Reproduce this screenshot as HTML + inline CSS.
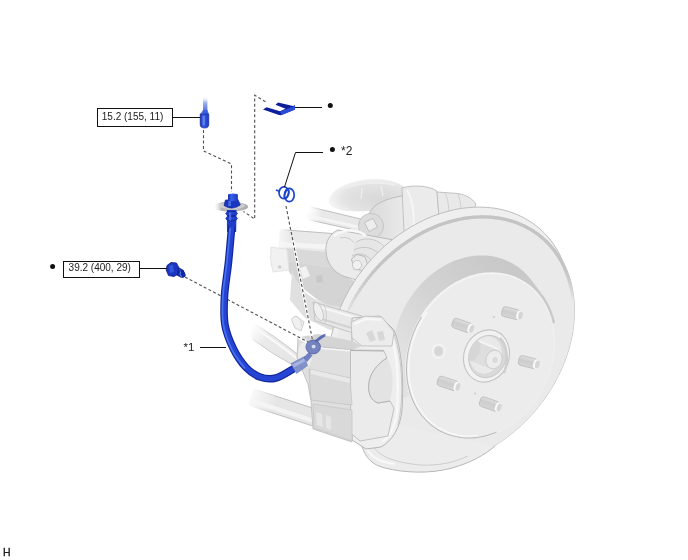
<!DOCTYPE html>
<html><head><meta charset="utf-8">
<style>
html,body{margin:0;padding:0;background:#fff;}
body{width:688px;height:560px;overflow:hidden;position:relative;}
svg{position:absolute;left:0;top:0;}
text{font-family:"Liberation Sans",sans-serif;font-size:10px;fill:#222;}
</style></head>
<body>
<svg width="688" height="560" viewBox="0 0 688 560">
<g id="assembly">
<defs>
<radialGradient id="bootg" cx="0.62" cy="0.6" r="0.62"><stop offset="0" stop-color="#d8d8d8"/><stop offset="0.7" stop-color="#e3e3e3"/><stop offset="1" stop-color="#f4f4f4"/></radialGradient>
</defs>
<linearGradient id="rg1" gradientUnits="userSpaceOnUse" x1="251" y1="397" x2="362" y2="433"><stop offset="0" stop-color="#f8f8f8"/><stop offset="0.22" stop-color="#e6e6e6"/><stop offset="1" stop-color="#e6e6e6"/></linearGradient><linearGradient id="rg1e" gradientUnits="userSpaceOnUse" x1="251" y1="397" x2="362" y2="433"><stop offset="0" stop-color="#ffffff"/><stop offset="0.22" stop-color="#b8b8b8"/><stop offset="1" stop-color="#b8b8b8"/></linearGradient><path d="M248.4,405.1 L359.4,441.1 L364.6,424.9 L253.6,388.9 Z" fill="url(#rg1)"/><path d="M248.4,405.1 L359.4,441.1 M253.6,388.9 L364.6,424.9" stroke="url(#rg1e)" stroke-width="0.9" fill="none"/><path d="M250.0,400.2 L361.0,436.2" stroke="#f6f6f6" stroke-width="4.2" fill="none" opacity="0.8"/>
<linearGradient id="rodh" gradientUnits="userSpaceOnUse" x1="250" y1="330" x2="300" y2="362"><stop offset="0" stop-color="#ffffff"/><stop offset="0.3" stop-color="#eaeaea"/><stop offset="1" stop-color="#e4e4e4"/></linearGradient>
<linearGradient id="rodhe" gradientUnits="userSpaceOnUse" x1="250" y1="330" x2="300" y2="362"><stop offset="0" stop-color="#ffffff"/><stop offset="0.3" stop-color="#c8c8c8"/><stop offset="1" stop-color="#c0c0c0"/></linearGradient>
<path d="M253,323 Q272,334 300,356 L298,368 Q272,354 252,339 Q248,331 253,323 Z" fill="url(#rodh)"/>
<path d="M253,323 Q272,334 300,356 M298,368 Q272,354 252,339" fill="none" stroke="url(#rodhe)" stroke-width="0.9"/>
<path d="M256,329 Q274,340 299,360" fill="none" stroke="#f8f8f8" stroke-width="2.5"/>
<path d="M329,200 C331,190 345,183 362,180 C378,177 394,180 405,187 L408,197 L396,206 C380,211 356,213 340,210 C333,208 328,205 329,200 Z" fill="url(#bootg)"/>
<path d="M345,188 C358,183 378,181 395,185" fill="none" stroke="#eeeeee" stroke-width="2"/>
<path d="M362,188 L361,199 M381,186 L383,196" stroke="#f0f0f0" stroke-width="1.2" fill="none"/>
<linearGradient id="hs1" x1="0" y1="0" x2="1" y2="0"><stop offset="0" stop-color="#dadada"/><stop offset="0.6" stop-color="#e6e6e6"/><stop offset="1" stop-color="#eeeeee"/></linearGradient>
<path d="M369,214 C372,205 384,199 402,196 L410,197 L414,238 L392,241 L372,239 Z" fill="url(#hs1)" stroke="#b8b8b8" stroke-width="0.9"/>
<path d="M402,188 C412,185 428,185 437,191 L440,228 L412,240 L404,232 Z" fill="#ebebeb" stroke="#bcbcbc" stroke-width="0.9"/>
<path d="M407,190 C413,200 416,220 412,238" fill="none" stroke="#f6f6f6" stroke-width="2"/>
<path d="M437,192 L458,193.5 C466,195 472,198 476,204 L470,222 L440,230 Z" fill="#e9e9e9" stroke="#bcbcbc" stroke-width="0.9"/>
<path d="M445,193 C449,200 450,215 447,228 M458,194 C461,202 462,212 460,222" fill="none" stroke="#cdcdcd" stroke-width="0.9"/>
<linearGradient id="rg2" gradientUnits="userSpaceOnUse" x1="308" y1="213" x2="364" y2="226"><stop offset="0" stop-color="#ffffff"/><stop offset="0.25" stop-color="#e8e8e8"/><stop offset="1" stop-color="#e8e8e8"/></linearGradient><linearGradient id="rg2e" gradientUnits="userSpaceOnUse" x1="308" y1="213" x2="364" y2="226"><stop offset="0" stop-color="#ffffff"/><stop offset="0.25" stop-color="#b8b8b8"/><stop offset="1" stop-color="#b8b8b8"/></linearGradient><path d="M306.5,219.3 L362.6,231.8 L365.4,220.2 L309.5,206.7 Z" fill="url(#rg2)"/><path d="M306.5,219.3 L362.6,231.8 M309.5,206.7 L365.4,220.2" stroke="url(#rg2e)" stroke-width="0.9" fill="none"/><path d="M307.4,215.5 L363.5,228.3" stroke="#f6f6f6" stroke-width="3.0" fill="none" opacity="0.8"/>
<circle cx="371" cy="226" r="12.5" fill="#dcdcdc" stroke="#c2c2c2" stroke-width="0.9"/>
<path d="M364.5,222.5 L373,218.5 L377.5,227 L369,231.5 Z" fill="#ededed" stroke="#b8b8b8" stroke-width="0.8"/>
<linearGradient id="rg3" gradientUnits="userSpaceOnUse" x1="279" y1="240" x2="345" y2="244"><stop offset="0" stop-color="#f6f6f6"/><stop offset="0.18" stop-color="#e9e9e9"/><stop offset="1" stop-color="#e9e9e9"/></linearGradient><linearGradient id="rg3e" gradientUnits="userSpaceOnUse" x1="279" y1="240" x2="345" y2="244"><stop offset="0" stop-color="#ffffff"/><stop offset="0.18" stop-color="#b8b8b8"/><stop offset="1" stop-color="#b8b8b8"/></linearGradient><path d="M278.4,250.5 L344.4,253.5 L345.6,234.5 L279.6,229.5 Z" fill="url(#rg3)"/><path d="M278.4,250.5 L344.4,253.5 M279.6,229.5 L345.6,234.5" stroke="url(#rg3e)" stroke-width="0.9" fill="none"/><path d="M278.7,244.2 L344.8,247.8" stroke="#f6f6f6" stroke-width="4.8" fill="none" opacity="0.8"/>
<path d="M286,248 L345,254 L352,276 L288,268 Z" fill="#d9d9d9"/>
<path d="M287,262 L330,268 L362,285 L374,306 L342,314 L318,300 L300,286 L289,272 Z" fill="#d4d4d4"/>
<path d="M300,268 L306,266 L310,276 L303,279 Z" fill="#f2f2f2"/><path d="M316,276 L322,275 L323,282 L317,283 Z" fill="#c8c8c8"/>
<path d="M271,247 L287,249.5 L289,270 L273,272 Q269,260 271,247 Z" fill="#f1f1f1" stroke="#e0e0e0" stroke-width="0.8"/>
<circle cx="279.6" cy="267" r="1.8" fill="#cfcfcf"/>
<path d="M338,230 C330,233 325,242 326,252 C327,264 334,272 343,276 L360,281 L392,262 L394,240 L372,236 Z" fill="#ebebeb" stroke="#bababa" stroke-width="1"/>
<path d="M334,236 C344,229 356,228 366,236" fill="none" stroke="#f8f8f8" stroke-width="2.5"/>
<path d="M340,238 C348,236 353,240 356,246" fill="none" stroke="#c6c6c6" stroke-width="0.9"/>
<path d="M354,243 C364,237 378,239 386,250 L388,262 L370,275 L352,270 Z" fill="#e6e6e6"/>
<path d="M356,242 C366,236 380,239 387,250 M354,250 C363,245 375,247 381,257 M352,256 C360,252 368,254 372,262" fill="none" stroke="#c2c2c2" stroke-width="0.9"/>
<path d="M351.5,259 L357,254.5 L365,256.5 L367.5,264.5 L362,270.5 L354,268.5 Z" fill="#e9e9e9" stroke="#b4b4b4" stroke-width="0.9"/>
<circle cx="357" cy="265" r="4.6" fill="#f1f1f1" stroke="#c0c0c0" stroke-width="0.8"/>
<path d="M292,270 C298,290 312,300 330,305 L376,312 L378,330 L330,330 L305,318 L290,300 Z" fill="#e0e0e0"/>
<path d="M292,321 C291,318 294,316 297,316.5 L304,322 L301,331 L295,328 Z" fill="#f0f0f0" stroke="#c4c4c4" stroke-width="0.8"/>
<path d="M297,317 C300,318 302,322 301,326" fill="none" stroke="#d0d0d0" stroke-width="0.8"/>
<path d="M328.4,363.8 L328.5,359.5 L328.7,355.2 L329.1,350.9 L329.5,346.6 L330.2,342.2 L331.0,337.8 L331.9,333.4 L333.0,329.0 L334.2,324.7 L335.6,320.3 L337.1,315.9 L338.7,311.6 L340.5,307.3 L342.4,303.0 L344.4,298.8 L346.6,294.6 L348.8,290.4 L351.3,286.3 L353.8,282.3 L356.4,278.3 L359.2,274.3 L362.1,270.5 L365.0,266.7 L368.1,263.0 L371.3,259.4 L374.6,255.9 L377.9,252.5 L381.4,249.2 L384.9,245.9 L388.5,242.8 L392.2,239.8 L396.0,236.9 L399.8,234.1 L403.7,231.5 L407.6,229.0 L411.6,226.5 L415.6,224.3 L419.7,222.1 L423.8,220.1 L428.0,218.2 L432.1,216.5 L436.3,214.9 L440.5,213.5 L444.7,212.2 L449.0,211.0 L453.2,210.0 L457.4,209.1 L461.6,208.4 L465.8,207.9 L470.0,207.5 L474.2,207.2 L478.3,207.1 L482.4,207.2 L486.4,207.4 L490.4,207.7 L494.4,208.2 L498.3,208.9 L502.1,209.7 L505.9,210.7 L509.6,211.8 L513.2,213.1 L516.8,214.5 L520.2,216.0 L523.6,217.7 L526.9,219.6 L530.1,221.5 L533.2,223.6 L536.2,225.9 L539.1,228.2 L541.9,230.7 L544.6,233.4 L547.1,236.1 L549.6,239.0 L551.9,242.0 L554.1,245.0 L556.1,248.2 L558.1,251.5 L559.9,254.9 L561.5,258.4 L565.4,267.0 L567.0,270.6 L568.4,274.3 L569.6,278.0 L570.7,281.8 L571.7,285.7 L572.5,289.7 L573.2,293.7 L573.7,297.8 L574.1,302.0 L574.4,306.2 L574.5,310.4 L574.4,314.7 L574.2,319.0 L573.8,323.3 L573.4,327.6 L572.7,332.0 L571.9,336.4 L571.0,340.8 L569.9,345.2 L568.7,349.5 L567.3,353.9 L565.8,358.3 L564.2,362.6 L562.4,366.9 L560.5,371.2 L558.5,375.4 L556.3,379.6 L554.1,383.8 L551.6,387.9 L549.1,391.9 L546.5,395.9 L543.7,399.9 L540.8,403.7 L537.9,407.5 L534.8,411.2 L531.6,414.8 L528.3,418.3 L525.0,421.7 L521.5,425.0 L518.0,428.3 L514.4,431.4 L510.7,434.4 L506.9,437.3 L503.1,440.1 L499.2,442.7 L495.3,445.2 L491.3,447.7 L487.3,449.9 L483.2,452.1 L479.1,454.1 L474.9,456.0 L470.8,457.7 L466.6,459.3 L462.4,460.7 L458.2,462.0 L453.9,463.2 L449.7,464.2 L445.5,465.1 L441.3,465.8 L437.1,466.3 L432.9,466.7 L428.7,467.0 L424.6,467.1 L420.5,467.0 L416.5,466.8 L412.5,466.5 L408.5,466.0 L404.6,465.3 L400.8,464.5 L397.0,463.5 L393.3,462.4 L389.7,461.1 L386.1,459.7 L382.7,458.2 L379.3,456.5 L376.0,454.6 L372.8,452.7 L369.7,450.6 L366.7,448.3 L363.8,446.0 L361.0,443.5 L358.3,440.8 L355.8,438.1 L353.3,435.2 L351.0,432.2 L348.8,429.2 L346.8,426.0 L344.8,422.7 L343.0,419.3 L341.4,415.8 L337.5,407.2 L335.9,403.6 L334.5,399.9 L333.3,396.2 L332.2,392.4 L331.2,388.5 L330.4,384.5 L329.7,380.5 L329.2,376.4 L328.8,372.2 L328.5,368.0 Z" fill="#efefef" stroke="#bdbdbd" stroke-width="1"/>
<ellipse cx="453.4" cy="341.4" rx="137.7" ry="107.2" transform="rotate(130.6 453.4 341.4)" fill="#eaeaea"/>
<line x1="346.4" y1="314.2" x2="347.8" y2="311.0" stroke="#c4c4c4" stroke-width="3.2" stroke-linecap="round" opacity="0.05"/>
<line x1="347.8" y1="311.0" x2="349.4" y2="307.9" stroke="#c4c4c4" stroke-width="3.2" stroke-linecap="round" opacity="0.11"/>
<line x1="349.4" y1="307.9" x2="351.0" y2="304.8" stroke="#c4c4c4" stroke-width="3.2" stroke-linecap="round" opacity="0.17"/>
<line x1="351.0" y1="304.8" x2="352.6" y2="301.7" stroke="#c4c4c4" stroke-width="3.2" stroke-linecap="round" opacity="0.22"/>
<line x1="352.6" y1="301.7" x2="354.4" y2="298.6" stroke="#c4c4c4" stroke-width="3.2" stroke-linecap="round" opacity="0.28"/>
<line x1="354.4" y1="298.6" x2="356.2" y2="295.5" stroke="#c4c4c4" stroke-width="3.2" stroke-linecap="round" opacity="0.34"/>
<line x1="356.2" y1="295.5" x2="358.1" y2="292.5" stroke="#c4c4c4" stroke-width="3.2" stroke-linecap="round" opacity="0.39"/>
<line x1="358.1" y1="292.5" x2="360.0" y2="289.5" stroke="#c4c4c4" stroke-width="3.2" stroke-linecap="round" opacity="0.45"/>
<line x1="360.0" y1="289.5" x2="362.0" y2="286.6" stroke="#c4c4c4" stroke-width="3.2" stroke-linecap="round" opacity="0.50"/>
<line x1="362.0" y1="286.6" x2="364.1" y2="283.7" stroke="#c4c4c4" stroke-width="3.2" stroke-linecap="round" opacity="0.55"/>
<line x1="364.1" y1="283.7" x2="366.2" y2="280.8" stroke="#c4c4c4" stroke-width="3.2" stroke-linecap="round" opacity="0.60"/>
<line x1="366.2" y1="280.8" x2="368.4" y2="277.9" stroke="#c4c4c4" stroke-width="3.2" stroke-linecap="round" opacity="0.66"/>
<line x1="368.4" y1="277.9" x2="370.6" y2="275.2" stroke="#c4c4c4" stroke-width="3.2" stroke-linecap="round" opacity="0.71"/>
<line x1="370.6" y1="275.2" x2="372.9" y2="272.4" stroke="#c4c4c4" stroke-width="3.2" stroke-linecap="round" opacity="0.76"/>
<line x1="372.9" y1="272.4" x2="375.3" y2="269.7" stroke="#c4c4c4" stroke-width="3.2" stroke-linecap="round" opacity="0.81"/>
<line x1="375.3" y1="269.7" x2="377.7" y2="267.1" stroke="#c4c4c4" stroke-width="3.2" stroke-linecap="round" opacity="0.85"/>
<line x1="377.7" y1="267.1" x2="380.1" y2="264.5" stroke="#c4c4c4" stroke-width="3.2" stroke-linecap="round" opacity="0.90"/>
<line x1="380.1" y1="264.5" x2="382.7" y2="261.9" stroke="#c4c4c4" stroke-width="3.2" stroke-linecap="round" opacity="0.95"/>
<line x1="382.7" y1="261.9" x2="385.2" y2="259.5" stroke="#c4c4c4" stroke-width="3.2" stroke-linecap="round" opacity="1.00"/>
<line x1="385.2" y1="259.5" x2="387.8" y2="257.0" stroke="#c4c4c4" stroke-width="3.2" stroke-linecap="round" opacity="1.00"/>
<line x1="387.8" y1="257.0" x2="390.5" y2="254.7" stroke="#c4c4c4" stroke-width="3.2" stroke-linecap="round" opacity="1.00"/>
<line x1="390.5" y1="254.7" x2="393.2" y2="252.3" stroke="#c4c4c4" stroke-width="3.2" stroke-linecap="round" opacity="1.00"/>
<line x1="393.2" y1="252.3" x2="395.9" y2="250.1" stroke="#c4c4c4" stroke-width="3.2" stroke-linecap="round" opacity="1.00"/>
<line x1="395.9" y1="250.1" x2="398.7" y2="247.9" stroke="#c4c4c4" stroke-width="3.2" stroke-linecap="round" opacity="1.00"/>
<line x1="398.7" y1="247.9" x2="401.5" y2="245.8" stroke="#c4c4c4" stroke-width="3.2" stroke-linecap="round" opacity="1.00"/>
<line x1="401.5" y1="245.8" x2="404.4" y2="243.7" stroke="#c4c4c4" stroke-width="3.2" stroke-linecap="round" opacity="1.00"/>
<line x1="404.4" y1="243.7" x2="407.3" y2="241.7" stroke="#c4c4c4" stroke-width="3.2" stroke-linecap="round" opacity="1.00"/>
<line x1="407.3" y1="241.7" x2="410.2" y2="239.8" stroke="#c4c4c4" stroke-width="3.2" stroke-linecap="round" opacity="1.00"/>
<line x1="410.2" y1="239.8" x2="413.1" y2="238.0" stroke="#c4c4c4" stroke-width="3.2" stroke-linecap="round" opacity="1.00"/>
<line x1="413.1" y1="238.0" x2="416.1" y2="236.2" stroke="#c4c4c4" stroke-width="3.2" stroke-linecap="round" opacity="1.00"/>
<line x1="416.1" y1="236.2" x2="419.1" y2="234.5" stroke="#c4c4c4" stroke-width="3.2" stroke-linecap="round" opacity="1.00"/>
<line x1="419.1" y1="234.5" x2="422.1" y2="232.8" stroke="#c4c4c4" stroke-width="3.2" stroke-linecap="round" opacity="1.00"/>
<line x1="422.1" y1="232.8" x2="425.2" y2="231.3" stroke="#c4c4c4" stroke-width="3.2" stroke-linecap="round" opacity="1.00"/>
<line x1="425.2" y1="231.3" x2="428.2" y2="229.8" stroke="#c4c4c4" stroke-width="3.2" stroke-linecap="round" opacity="1.00"/>
<line x1="428.2" y1="229.8" x2="431.3" y2="228.4" stroke="#c4c4c4" stroke-width="3.2" stroke-linecap="round" opacity="1.00"/>
<line x1="431.3" y1="228.4" x2="434.4" y2="227.1" stroke="#c4c4c4" stroke-width="3.2" stroke-linecap="round" opacity="1.00"/>
<line x1="434.4" y1="227.1" x2="437.5" y2="225.8" stroke="#c4c4c4" stroke-width="3.2" stroke-linecap="round" opacity="1.00"/>
<line x1="437.5" y1="225.8" x2="440.6" y2="224.6" stroke="#c4c4c4" stroke-width="3.2" stroke-linecap="round" opacity="1.00"/>
<line x1="440.6" y1="224.6" x2="443.8" y2="223.5" stroke="#c4c4c4" stroke-width="3.2" stroke-linecap="round" opacity="1.00"/>
<line x1="443.8" y1="223.5" x2="446.9" y2="222.5" stroke="#c4c4c4" stroke-width="3.2" stroke-linecap="round" opacity="1.00"/>
<line x1="446.9" y1="222.5" x2="450.0" y2="221.6" stroke="#c4c4c4" stroke-width="3.2" stroke-linecap="round" opacity="1.00"/>
<line x1="450.0" y1="221.6" x2="453.2" y2="220.8" stroke="#c4c4c4" stroke-width="3.2" stroke-linecap="round" opacity="1.00"/>
<line x1="453.2" y1="220.8" x2="456.3" y2="220.0" stroke="#c4c4c4" stroke-width="3.2" stroke-linecap="round" opacity="1.00"/>
<line x1="456.3" y1="220.0" x2="459.5" y2="219.3" stroke="#c4c4c4" stroke-width="3.2" stroke-linecap="round" opacity="1.00"/>
<line x1="459.5" y1="219.3" x2="462.6" y2="218.7" stroke="#c4c4c4" stroke-width="3.2" stroke-linecap="round" opacity="1.00"/>
<line x1="462.6" y1="218.7" x2="465.7" y2="218.2" stroke="#c4c4c4" stroke-width="3.2" stroke-linecap="round" opacity="1.00"/>
<line x1="465.7" y1="218.2" x2="468.8" y2="217.8" stroke="#c4c4c4" stroke-width="3.2" stroke-linecap="round" opacity="1.00"/>
<line x1="468.8" y1="217.8" x2="471.9" y2="217.4" stroke="#c4c4c4" stroke-width="3.2" stroke-linecap="round" opacity="1.00"/>
<line x1="471.9" y1="217.4" x2="475.0" y2="217.2" stroke="#c4c4c4" stroke-width="3.2" stroke-linecap="round" opacity="1.00"/>
<line x1="475.0" y1="217.2" x2="478.1" y2="217.0" stroke="#c4c4c4" stroke-width="3.2" stroke-linecap="round" opacity="1.00"/>
<line x1="478.1" y1="217.0" x2="481.2" y2="216.9" stroke="#c4c4c4" stroke-width="3.2" stroke-linecap="round" opacity="1.00"/>
<line x1="481.2" y1="216.9" x2="484.2" y2="216.9" stroke="#c4c4c4" stroke-width="3.2" stroke-linecap="round" opacity="1.00"/>
<line x1="484.2" y1="216.9" x2="487.2" y2="217.0" stroke="#c4c4c4" stroke-width="3.2" stroke-linecap="round" opacity="1.00"/>
<line x1="487.2" y1="217.0" x2="490.2" y2="217.2" stroke="#c4c4c4" stroke-width="3.2" stroke-linecap="round" opacity="1.00"/>
<line x1="490.2" y1="217.2" x2="493.2" y2="217.4" stroke="#c4c4c4" stroke-width="3.2" stroke-linecap="round" opacity="1.00"/>
<line x1="493.2" y1="217.4" x2="496.1" y2="217.8" stroke="#c4c4c4" stroke-width="3.2" stroke-linecap="round" opacity="1.00"/>
<line x1="496.1" y1="217.8" x2="499.1" y2="218.2" stroke="#c4c4c4" stroke-width="3.2" stroke-linecap="round" opacity="1.00"/>
<line x1="499.1" y1="218.2" x2="501.9" y2="218.7" stroke="#c4c4c4" stroke-width="3.2" stroke-linecap="round" opacity="1.00"/>
<line x1="501.9" y1="218.7" x2="504.8" y2="219.3" stroke="#c4c4c4" stroke-width="3.2" stroke-linecap="round" opacity="1.00"/>
<line x1="504.8" y1="219.3" x2="507.6" y2="220.0" stroke="#c4c4c4" stroke-width="3.2" stroke-linecap="round" opacity="1.00"/>
<line x1="507.6" y1="220.0" x2="510.4" y2="220.7" stroke="#c4c4c4" stroke-width="3.2" stroke-linecap="round" opacity="1.00"/>
<line x1="510.4" y1="220.7" x2="513.1" y2="221.5" stroke="#c4c4c4" stroke-width="3.2" stroke-linecap="round" opacity="1.00"/>
<line x1="513.1" y1="221.5" x2="515.8" y2="222.5" stroke="#c4c4c4" stroke-width="3.2" stroke-linecap="round" opacity="1.00"/>
<line x1="515.8" y1="222.5" x2="518.4" y2="223.5" stroke="#c4c4c4" stroke-width="3.2" stroke-linecap="round" opacity="1.00"/>
<line x1="518.4" y1="223.5" x2="521.1" y2="224.6" stroke="#c4c4c4" stroke-width="3.2" stroke-linecap="round" opacity="1.00"/>
<line x1="521.1" y1="224.6" x2="523.6" y2="225.7" stroke="#c4c4c4" stroke-width="3.2" stroke-linecap="round" opacity="1.00"/>
<line x1="523.6" y1="225.7" x2="526.1" y2="227.0" stroke="#c4c4c4" stroke-width="3.2" stroke-linecap="round" opacity="1.00"/>
<line x1="526.1" y1="227.0" x2="528.6" y2="228.3" stroke="#c4c4c4" stroke-width="3.2" stroke-linecap="round" opacity="1.00"/>
<line x1="528.6" y1="228.3" x2="531.0" y2="229.7" stroke="#c4c4c4" stroke-width="3.2" stroke-linecap="round" opacity="1.00"/>
<line x1="531.0" y1="229.7" x2="533.4" y2="231.1" stroke="#c4c4c4" stroke-width="3.2" stroke-linecap="round" opacity="1.00"/>
<line x1="533.4" y1="231.1" x2="535.7" y2="232.7" stroke="#c4c4c4" stroke-width="3.2" stroke-linecap="round" opacity="1.00"/>
<line x1="535.7" y1="232.7" x2="537.9" y2="234.3" stroke="#c4c4c4" stroke-width="3.2" stroke-linecap="round" opacity="1.00"/>
<line x1="537.9" y1="234.3" x2="540.1" y2="236.0" stroke="#c4c4c4" stroke-width="3.2" stroke-linecap="round" opacity="1.00"/>
<line x1="540.1" y1="236.0" x2="542.2" y2="237.8" stroke="#c4c4c4" stroke-width="3.2" stroke-linecap="round" opacity="1.00"/>
<line x1="542.2" y1="237.8" x2="544.3" y2="239.6" stroke="#c4c4c4" stroke-width="3.2" stroke-linecap="round" opacity="1.00"/>
<line x1="544.3" y1="239.6" x2="546.3" y2="241.5" stroke="#c4c4c4" stroke-width="3.2" stroke-linecap="round" opacity="1.00"/>
<line x1="546.3" y1="241.5" x2="548.3" y2="243.5" stroke="#c4c4c4" stroke-width="3.2" stroke-linecap="round" opacity="1.00"/>
<line x1="548.3" y1="243.5" x2="550.1" y2="245.5" stroke="#c4c4c4" stroke-width="3.2" stroke-linecap="round" opacity="1.00"/>
<line x1="550.1" y1="245.5" x2="551.9" y2="247.6" stroke="#c4c4c4" stroke-width="3.2" stroke-linecap="round" opacity="1.00"/>
<line x1="551.9" y1="247.6" x2="553.7" y2="249.8" stroke="#c4c4c4" stroke-width="3.2" stroke-linecap="round" opacity="1.00"/>
<line x1="553.7" y1="249.8" x2="555.4" y2="252.0" stroke="#c4c4c4" stroke-width="3.2" stroke-linecap="round" opacity="1.00"/>
<line x1="555.4" y1="252.0" x2="557.0" y2="254.3" stroke="#c4c4c4" stroke-width="3.2" stroke-linecap="round" opacity="1.00"/>
<line x1="557.0" y1="254.3" x2="558.5" y2="256.7" stroke="#c4c4c4" stroke-width="3.2" stroke-linecap="round" opacity="1.00"/>
<line x1="558.5" y1="256.7" x2="560.0" y2="259.1" stroke="#c4c4c4" stroke-width="3.2" stroke-linecap="round" opacity="1.00"/>
<line x1="560.0" y1="259.1" x2="561.4" y2="261.5" stroke="#c4c4c4" stroke-width="3.2" stroke-linecap="round" opacity="1.00"/>
<line x1="561.4" y1="261.5" x2="562.7" y2="264.1" stroke="#c4c4c4" stroke-width="3.2" stroke-linecap="round" opacity="0.99"/>
<line x1="562.7" y1="264.1" x2="564.0" y2="266.6" stroke="#c4c4c4" stroke-width="3.2" stroke-linecap="round" opacity="0.92"/>
<line x1="564.0" y1="266.6" x2="565.1" y2="269.3" stroke="#c4c4c4" stroke-width="3.2" stroke-linecap="round" opacity="0.85"/>
<line x1="565.1" y1="269.3" x2="566.2" y2="271.9" stroke="#c4c4c4" stroke-width="3.2" stroke-linecap="round" opacity="0.77"/>
<line x1="566.2" y1="271.9" x2="567.2" y2="274.7" stroke="#c4c4c4" stroke-width="3.2" stroke-linecap="round" opacity="0.69"/>
<line x1="567.2" y1="274.7" x2="568.2" y2="277.4" stroke="#c4c4c4" stroke-width="3.2" stroke-linecap="round" opacity="0.62"/>
<line x1="568.2" y1="277.4" x2="569.0" y2="280.3" stroke="#c4c4c4" stroke-width="3.2" stroke-linecap="round" opacity="0.54"/>
<line x1="569.0" y1="280.3" x2="569.8" y2="283.1" stroke="#c4c4c4" stroke-width="3.2" stroke-linecap="round" opacity="0.47"/>
<line x1="569.8" y1="283.1" x2="570.5" y2="286.0" stroke="#c4c4c4" stroke-width="3.2" stroke-linecap="round" opacity="0.39"/>
<line x1="570.5" y1="286.0" x2="571.2" y2="288.9" stroke="#c4c4c4" stroke-width="3.2" stroke-linecap="round" opacity="0.31"/>
<line x1="571.2" y1="288.9" x2="571.7" y2="291.9" stroke="#c4c4c4" stroke-width="3.2" stroke-linecap="round" opacity="0.24"/>
<line x1="571.7" y1="291.9" x2="572.2" y2="294.9" stroke="#c4c4c4" stroke-width="3.2" stroke-linecap="round" opacity="0.16"/>
<line x1="572.2" y1="294.9" x2="572.5" y2="298.0" stroke="#c4c4c4" stroke-width="3.2" stroke-linecap="round" opacity="0.08"/>
<line x1="572.5" y1="298.0" x2="572.8" y2="301.0" stroke="#c4c4c4" stroke-width="3.2" stroke-linecap="round" opacity="0.01"/>
<linearGradient id="wallg" gradientUnits="userSpaceOnUse" x1="490" y1="258" x2="396" y2="352"><stop offset="0" stop-color="#c9c9c9"/><stop offset="0.5" stop-color="#d3d3d3"/><stop offset="1" stop-color="#e2e2e2"/></linearGradient>
<clipPath id="wallclip"><path d="M380,200 L600,200 L600,300 L556,322 L520,345 L400,400 L380,400 Z"/></clipPath>
<g clip-path="url(#wallclip)"><path d="M392.5,354.8 L392.6,351.8 L392.7,348.8 L393.0,345.8 L393.3,342.8 L393.7,339.8 L394.3,336.8 L394.9,333.8 L395.6,330.9 L396.4,327.9 L397.3,324.9 L398.2,322.0 L399.3,319.1 L400.4,316.2 L401.7,313.3 L403.0,310.5 L404.4,307.7 L405.8,305.0 L407.4,302.3 L409.0,299.7 L410.7,297.1 L412.5,294.5 L414.3,292.0 L416.2,289.6 L418.2,287.2 L420.2,284.9 L422.3,282.7 L424.5,280.6 L426.7,278.5 L428.9,276.5 L431.3,274.5 L433.6,272.7 L436.0,270.9 L438.4,269.3 L440.9,267.7 L443.4,266.2 L446.0,264.8 L448.5,263.5 L451.1,262.2 L453.8,261.1 L456.4,260.1 L459.1,259.2 L461.7,258.4 L464.4,257.6 L467.1,257.0 L469.8,256.5 L472.5,256.1 L475.1,255.8 L477.8,255.6 L480.5,255.5 L483.1,255.5 L485.8,255.6 L488.4,255.8 L491.0,256.1 L493.5,256.5 L496.1,257.1 L498.6,257.7 L501.1,258.4 L503.5,259.3 L505.9,260.2 L508.2,261.2 L510.5,262.4 L512.8,263.6 L515.0,264.9 L517.1,266.3 L519.2,267.8 L521.2,269.4 L523.2,271.1 L525.1,272.9 L526.9,274.7 L528.6,276.7 L530.3,278.7 L531.9,280.8 L542.6,295.0 L544.2,297.1 L545.6,299.4 L547.0,301.7 L548.3,304.0 L549.5,306.5 L550.6,309.0 L551.7,311.5 L552.6,314.1 L553.5,316.8 L554.3,319.5 L555.0,322.2 L555.5,325.0 L556.0,327.8 L556.5,330.7 L556.8,333.6 L557.0,336.5 L557.1,339.4 L557.2,342.4 L557.1,345.4 L557.0,348.4 L556.7,351.4 L556.4,354.4 L556.0,357.4 L555.4,360.4 L554.8,363.4 L554.1,366.3 L553.3,369.3 L552.4,372.3 L551.5,375.2 L550.4,378.1 L549.3,381.0 L548.0,383.9 L546.7,386.7 L545.3,389.5 L543.9,392.2 L542.3,394.9 L540.7,397.5 L539.0,400.1 L537.2,402.7 L535.4,405.2 L533.5,407.6 L531.5,410.0 L529.5,412.3 L527.4,414.5 L525.2,416.6 L523.0,418.7 L520.8,420.7 L518.4,422.7 L516.1,424.5 L513.7,426.3 L511.3,427.9 L508.8,429.5 L506.3,431.0 L503.7,432.4 L501.2,433.7 L498.6,435.0 L495.9,436.1 L493.3,437.1 L490.6,438.0 L488.0,438.8 L485.3,439.6 L482.6,440.2 L479.9,440.7 L477.2,441.1 L474.6,441.4 L471.9,441.6 L469.2,441.7 L466.6,441.7 L463.9,441.6 L461.3,441.4 L458.7,441.1 L456.2,440.7 L453.6,440.1 L451.1,439.5 L448.6,438.8 L446.2,437.9 L443.8,437.0 L441.5,436.0 L439.2,434.8 L436.9,433.6 L434.7,432.3 L432.6,430.9 L430.5,429.4 L428.5,427.8 L426.5,426.1 L424.6,424.3 L422.8,422.5 L421.1,420.5 L419.4,418.5 L417.8,416.4 L407.1,402.2 L405.5,400.1 L404.1,397.8 L402.7,395.5 L401.4,393.2 L400.2,390.7 L399.1,388.2 L398.0,385.7 L397.1,383.1 L396.2,380.4 L395.4,377.7 L394.7,375.0 L394.2,372.2 L393.7,369.4 L393.2,366.5 L392.9,363.6 L392.7,360.7 L392.6,357.8 Z" fill="url(#wallg)"/></g>
<ellipse cx="480.2" cy="355.7" rx="86.5" ry="71.4" transform="rotate(117.4 480.2 355.7)" fill="#f3f3f3"/>
<ellipse cx="480.8" cy="356.5" rx="85.3" ry="70.2" transform="rotate(117.4 480.8 356.5)" fill="#ececec"/>
<path d="M496.5,432.1 L493.6,433.3 L490.6,434.3 L487.6,435.3 L484.6,436.1 L481.7,436.7 L478.7,437.3 L475.7,437.6 L472.7,437.9 L469.7,438.0 L466.7,438.0 L463.8,437.9 L460.9,437.6 L458.0,437.1 L455.2,436.6 L452.4,435.9 L449.6,435.1 L446.9,434.1 L444.3,433.0 L441.7,431.8 L439.1,430.5 L436.7,429.0 L434.3,427.4 L432.0,425.7 L429.8,423.9 L427.6,421.9 L425.6,419.9 L423.6,417.7 L421.7,415.5 L420.0,413.1 L418.3,410.7 L416.7,408.1 L415.2,405.5 L413.9,402.8 L412.6,400.0 L411.5,397.2 L410.5,394.2 L409.6,391.2 L408.8,388.2 L408.1,385.1 L407.5,381.9 L407.1,378.7 L406.8,375.5 L406.6,372.2 L406.5,368.9 L406.6,365.6 L406.8,362.3 L407.1,358.9 L407.5,355.6 L408.0,352.2 L408.7,348.9 L409.5,345.5 L410.4,342.2 L411.4,338.9 L412.5,335.6 L413.7,332.4 L415.1,329.2 L416.5,326.1 L418.1,323.0 L419.8,319.9 L421.5,316.9" fill="none" stroke="#bcbcbc" stroke-width="1.1"/>
<path d="M477.3,435.4 L474.6,435.8 L471.9,436.0 L469.2,436.0 L466.5,436.0 L463.9,435.9 L461.2,435.6 L458.6,435.2 L456.1,434.7 L453.5,434.1 L451.0,433.4 L448.6,432.6 L446.2,431.7 L443.8,430.6 L441.5,429.5 L439.3,428.2 L437.1,426.9 L434.9,425.4 L432.9,423.8 L430.9,422.2 L428.9,420.4 L427.1,418.6 L425.3,416.6 L423.6,414.6 L422.0,412.5 L420.4,410.3 L419.0,408.1 L417.6,405.7 L416.3,403.3 L415.2,400.8 L414.1,398.3 L413.1,395.7 L412.2,393.0 L411.4,390.3 L410.7,387.5 L410.1,384.7 L409.6,381.9 L409.1,379.0 L408.8,376.0 L408.6,373.1 L408.5,370.1 L408.6,367.1 L408.7,364.1 L408.9,361.1 L409.2,358.0 L409.6,355.0 L410.1,352.0 L410.7,348.9 L411.4,345.9 L412.2,342.9 L413.1,339.9 L414.2,337.0 L415.3,334.0 L416.4,331.1 L417.7,328.2 L419.1,325.4 L420.6,322.6 L422.1,319.9 L423.7,317.2 L425.4,314.5 L427.2,311.9" fill="none" stroke="#f8f8f8" stroke-width="1.6"/>
<defs><linearGradient id="studg" x1="0" y1="0" x2="0" y2="1"><stop offset="0" stop-color="#e0e0e0"/><stop offset="0.45" stop-color="#cdcdcd"/><stop offset="1" stop-color="#d6d6d6"/></linearGradient></defs>
<ellipse cx="438.8" cy="351.3" rx="6" ry="6.5" fill="#e2e2e2" stroke="#f6f6f6" stroke-width="1.5"/>
<ellipse cx="438.3" cy="351" rx="4" ry="4.5" fill="#d6d6d6"/>
<ellipse cx="486.5" cy="356" rx="26.5" ry="22.5" transform="rotate(110 486.5 356)" fill="#f2f2f2" stroke="#c4c4c4" stroke-width="1.1"/>
<ellipse cx="487.5" cy="356.5" rx="21.5" ry="18.5" transform="rotate(110 487.5 356.5)" fill="#d9d9d9" stroke="#c4c4c4" stroke-width="0.8"/>
<ellipse cx="486" cy="355" rx="19" ry="15.5" transform="rotate(110 486 355)" fill="#e9e9e9"/>
<path d="M479,340.5 L498,348.5 L491,369 L471,361 Z" fill="#dedede"/>
<path d="M479,341 L498,349" stroke="#f4f4f4" stroke-width="2" fill="none"/>
<ellipse cx="474.5" cy="351" rx="5" ry="10.5" transform="rotate(22 474.5 351)" fill="#d6d6d6"/>
<ellipse cx="494" cy="359.5" rx="8" ry="9.5" transform="rotate(22 494 359.5)" fill="#ececec" stroke="#c8c8c8" stroke-width="0.8"/>
<ellipse cx="495" cy="360" rx="3.6" ry="4" fill="#dadada" stroke="#f6f6f6" stroke-width="1"/>
<path d="M500,338 C507,345 509,360 504,373" stroke="#cfcfcf" stroke-width="2.5" fill="none"/>
<g transform="translate(454.5 322.8) rotate(19.5)"><rect x="-2" y="-5.0" width="19.711578134090686" height="10" rx="3" fill="url(#studg)" stroke="#b8b8b8" stroke-width="0.7"/><ellipse cx="16.711578134090686" cy="0" rx="2.6" ry="4.7" fill="#fafafa"/><ellipse cx="18.211578134090686" cy="0" rx="2.2" ry="4.0" fill="#d6d6d6"/></g>
<g transform="translate(504.0 311.4) rotate(14.0)"><rect x="-2" y="-5.0" width="18.492422502470642" height="10" rx="3" fill="url(#studg)" stroke="#b8b8b8" stroke-width="0.7"/><ellipse cx="15.492422502470642" cy="0" rx="2.6" ry="4.7" fill="#fafafa"/><ellipse cx="16.992422502470642" cy="0" rx="2.2" ry="4.0" fill="#d6d6d6"/></g>
<g transform="translate(520.8 360.3) rotate(14.0)"><rect x="-2" y="-5.0" width="18.492422502470642" height="10" rx="3" fill="url(#studg)" stroke="#b8b8b8" stroke-width="0.7"/><ellipse cx="15.492422502470642" cy="0" rx="2.6" ry="4.7" fill="#fafafa"/><ellipse cx="16.992422502470642" cy="0" rx="2.2" ry="4.0" fill="#d6d6d6"/></g>
<g transform="translate(439.7 380.8) rotate(18.4)"><rect x="-2" y="-5.0" width="20.65743819499342" height="10" rx="3" fill="url(#studg)" stroke="#b8b8b8" stroke-width="0.7"/><ellipse cx="17.65743819499342" cy="0" rx="2.6" ry="4.7" fill="#fafafa"/><ellipse cx="19.15743819499342" cy="0" rx="2.2" ry="4.0" fill="#d6d6d6"/></g>
<g transform="translate(482.0 401.4) rotate(19.5)"><rect x="-2" y="-5.0" width="19.711578134090708" height="10" rx="3" fill="url(#studg)" stroke="#b8b8b8" stroke-width="0.7"/><ellipse cx="16.711578134090708" cy="0" rx="2.6" ry="4.7" fill="#fafafa"/><ellipse cx="18.211578134090708" cy="0" rx="2.2" ry="4.0" fill="#d6d6d6"/></g>
<circle cx="493.8" cy="316.9" r="1" fill="#c8c8c8"/><circle cx="475" cy="393.5" r="1" fill="#c8c8c8"/><!-- dust shield bottom -->
<path d="M360,436 C362,452 368,464 385,468 C405,473 430,474 452,468 C470,463 485,455 495,446 L470,440 L420,430 L380,420 Z" fill="#ececec"/>
<path d="M360,436 C362,452 368,464 385,468 C405,473 430,474 452,468 C470,463 485,455 495,446" fill="none" stroke="#b8b8b8" stroke-width="1"/>
<path d="M372,444 C378,456 392,462 420,465 C440,466 455,462 468,456" fill="none" stroke="#cacaca" stroke-width="0.9"/>
<path d="M366,448 C372,458 380,462 395,464" fill="none" stroke="#f8f8f8" stroke-width="2"/>
<!-- guide pin -->
<path d="M313,302 L362,316 L362,336 L315,320.6 Z" fill="#e8e8e8" stroke="#c0c0c0" stroke-width="0.9"/>
<path d="M316,306 L362,319.5" stroke="#f6f6f6" stroke-width="2.2" fill="none"/>
<path d="M318,318 L362,331" stroke="#d2d2d2" stroke-width="2" fill="none"/>
<ellipse cx="318.5" cy="311.5" rx="4" ry="9.5" transform="rotate(-20 318.5 311.5)" fill="#efefef" stroke="#c2c2c2" stroke-width="0.8"/>
<path d="M324,306 C327,310 327,318 325,323" stroke="#c8c8c8" stroke-width="0.9" fill="none"/>
<!-- bracket C arm -->
<path d="M352,318 L380,316 L394,330 C402,350 404,380 402,410 C400,428 393,440 381,447 L366,449 L352,440 Z" fill="#eeeeee" stroke="#b6b6b6" stroke-width="1"/>
<path d="M386,326 C398,345 399,380 397,412 C395,428 390,436 382,442" fill="none" stroke="#f8f8f8" stroke-width="2.2"/>
<path d="M394,334 C403,360 404,400 398,425" fill="none" stroke="#c6c6c6" stroke-width="0.9"/>
<!-- caliper top dark band -->
<path d="M318,334 L352,341 L362,346 L352,350 L323,347 L300,337 Z" fill="#d4d4d4"/>
<!-- caliper rear housing -->
<path d="M298,337 L323,347 L352,350 L352,442 L313,429 L311,401 L308,384 L303,372 L297,358 Z" fill="#dfdfdf" stroke="#c0c0c0" stroke-width="0.9"/>
<path d="M299,339 L323,348.5 L352,351" fill="none" stroke="#f6f6f6" stroke-width="1.6"/>
<ellipse cx="305" cy="355" rx="7" ry="13" fill="#ececec"/>
<!-- bracket top block -->
<path d="M351,322 L365,316 L382,317 L394,332 L392,346 L362,346 L352,338 Z" fill="#ececec" stroke="#bfbfbf" stroke-width="0.9"/>
<path d="M354,324 L366,319 L381,320" fill="none" stroke="#f8f8f8" stroke-width="2"/>
<path d="M366,333 L372,330 L376,340 L370,342 Z M377,332 L383,331 L385,340 L379,341 Z" fill="#d8d8d8"/>
<!-- caliper front block -->
<path d="M350.5,350 L383.6,350.4 L387,358 C377,364 369,374 368.6,386 C368.3,395 372,401 378,403 L390,401 L394,408 L388,436 L360,441 L350.5,433 Z" fill="#ebebeb" stroke="#bcbcbc" stroke-width="0.9"/>
<path d="M351,350.5 L384,351" stroke="#b0b0b0" stroke-width="1" fill="none"/>
<!-- cutout interior -->
<path d="M387,358 C377,364 369,374 368.6,386 C368.3,395 372,401 378,403 L390,401 C394,385 394,370 387,358 Z" fill="#e3e3e3"/>
<path d="M387,358 C377,364 369,374 368.6,386 C368.3,395 372,401 378,403 L390,401" fill="none" stroke="#b4b4b4" stroke-width="1"/>
<!-- pad slot / housing details -->
<path d="M309,369 L350,378 L352,405 L311,400 Z" fill="#dadada" stroke="#c4c4c4" stroke-width="0.8"/>
<path d="M311,369.5 L350,378.5 L350,383 L311,374 Z" fill="#e9e9e9"/>
<path d="M313,404 L352,410 L352,441 L314,428 Z" fill="#d9d9d9" stroke="#c6c6c6" stroke-width="0.8"/>
<path d="M316,412 L322,414 L323,427 L317,425 Z M326,415 L331,417 L331,430 L326,428 Z" fill="#e6e6e6"/>

<g id="halo" fill="none" stroke="#ffffff" stroke-width="2.6" opacity="0.9">
  <line x1="252" y1="312.4" x2="306" y2="341"/>
  <line x1="293" y1="240" x2="312" y2="338"/>
</g>
<g id="dashes" fill="none" stroke="#505050" stroke-width="1.1" stroke-dasharray="3,2.3">
  <polyline points="203.5,130 203.5,151 231.5,164 231.5,192"/>
  <polyline points="265.5,101.8 254.7,95.2 254.7,219 243.5,211.5"/>
  <line x1="185" y1="277" x2="308" y2="342"/>
  <line x1="286" y1="206" x2="312.5" y2="340"/>
</g>

<defs>
<linearGradient id="tubeg" x1="0" y1="0" x2="0" y2="1"><stop offset="0" stop-color="#ffffff" stop-opacity="0"/><stop offset="0.35" stop-color="#a0b4f0"/><stop offset="1" stop-color="#2a50d8"/></linearGradient>
<linearGradient id="washg" x1="0" y1="0" x2="1" y2="0.3"><stop offset="0" stop-color="#ffffff" stop-opacity="0"/><stop offset="0.3" stop-color="#c4c4c4"/><stop offset="0.7" stop-color="#8a8a8a"/><stop offset="1" stop-color="#a4a4a4"/></linearGradient>
<linearGradient id="nutg" x1="0" y1="0" x2="1" y2="0"><stop offset="0" stop-color="#1430b0"/><stop offset="0.35" stop-color="#3a60e8"/><stop offset="1" stop-color="#1a38c0"/></linearGradient>
</defs>
<!-- top connector -->
<rect x="203" y="96" width="4.4" height="19" fill="url(#tubeg)"/>
<path d="M203,110 L207.4,110 L208.8,114 L200.2,114 Z" fill="#3a5ee0" opacity="0.85"/>
<path d="M200.2,114 L208.8,114 L208.8,124.5 Q208.8,128 204.5,128 Q200.2,128 200.2,124.5 Z" fill="url(#nutg)" stroke="#0f2190" stroke-width="0.6"/>
<rect x="202.5" y="116" width="2.5" height="9" fill="#6a90f8" opacity="0.7"/>
<!-- clip -->
<path d="M263,109.5 L266.5,107.2 L280,111.2 L285.5,108.8 L275.5,104.8 L278,102.5 L293,106 L295,105.3 L295,109.5 L281,115.3 L279,115 Z" fill="#0c1e9a"/>
<path d="M280.5,111.6 L295,105.5 L295,109.5 L281,115.3 Z" fill="#2a4ad8"/>
<!-- ring washer -->
<g fill="none" stroke="#1d44cc" stroke-width="1.7">
<ellipse cx="283.9" cy="192.8" rx="4.9" ry="5.9"/>
<ellipse cx="289.3" cy="195" rx="4.9" ry="6.6"/>
<ellipse cx="286.6" cy="194" rx="1.6" ry="4.6" transform="rotate(20 286.6 194)"/>
<line x1="276" y1="190" x2="280" y2="191.5"/>
</g>
<!-- upper fitting -->
<linearGradient id="washg2" x1="0" y1="0" x2="1" y2="0"><stop offset="0" stop-color="#ffffff" stop-opacity="0"/><stop offset="0.25" stop-color="#b4b4b4"/><stop offset="0.6" stop-color="#c4c4c4"/><stop offset="1" stop-color="#a8a8a8"/></linearGradient>
<ellipse cx="230.5" cy="206.8" rx="17.5" ry="5" fill="url(#washg2)"/>
<ellipse cx="232" cy="205.8" rx="13" ry="3.2" fill="#d4d4d4" opacity="0.8"/>
<path d="M226.8,210 L236.5,210 L236.2,232 L227,232 Z" fill="#1f3cc8"/>
<ellipse cx="231.6" cy="213.5" rx="5.8" ry="2.2" fill="#2442cc" stroke="#0f2190" stroke-width="0.7"/>
<ellipse cx="231.6" cy="218.5" rx="5.8" ry="2.2" fill="#2442cc" stroke="#0f2190" stroke-width="0.7"/>
<rect x="229" y="212.5" width="2.2" height="8" fill="#5a84f0" opacity="0.7"/>
<path d="M225.4,200 L238,199.5 L240.4,205 Q232,211 224,205.5 Z" fill="#1a36c0" stroke="#0f2190" stroke-width="0.6"/>
<path d="M228,195 Q228,193.5 233,193.5 Q237.9,193.5 237.9,195 L237.9,200.5 Q233,202 228,200.5 Z" fill="url(#nutg)"/>
<path d="M228.5,201 L231,200.5 L231,206 L228,206 Z" fill="#5a80f0" opacity="0.7"/>
<!-- bolt -->
<g>
<path d="M176,266 L183.6,270.5 Q185.5,273.5 181.4,277.5 L173.4,273.2 Z" fill="#1a30b4" stroke="#0c1a88" stroke-width="0.7"/>
<path d="M177,268.5 L182.5,271.5" stroke="#3a5ee0" stroke-width="1" fill="none"/>
<ellipse cx="182.3" cy="274" rx="2.6" ry="3.6" transform="rotate(-30 182.3 274)" fill="#1428a0" stroke="#0c1a88" stroke-width="0.6"/>
<path d="M180.5,271.5 Q179.2,274.5 181.5,277" stroke="#5a9cff" stroke-width="1" fill="none"/>
<path d="M167,265.5 L171,262.5 L176.5,263 L178.5,267 L178,274 L174,276.5 L168.5,275.5 L166.2,270 Z" fill="#1a36c0" stroke="#0c1a88" stroke-width="0.8"/>
<path d="M169,266 L173,264.5 L174,272 L170,273 Z" fill="#3a5ee0" opacity="0.8"/>
</g>
<!-- hose -->
<path d="M231.8,226.0 C231.2,232.0 229.7,250.3 228.5,262.0 C227.3,273.7 225.1,285.5 224.5,296.0 C223.9,306.5 223.5,316.2 225.0,325.0 C226.5,333.8 230.0,341.9 233.5,349.0 C237.0,356.1 241.6,362.8 246.0,367.5 C250.4,372.2 255.0,375.2 260.0,377.0 C265.0,378.8 270.3,379.4 276.0,378.0 C281.7,376.6 291.0,370.1 294.0,368.5" fill="none" stroke="#13269c" stroke-width="7.6"/>
<path d="M231.8,226.0 C231.2,232.0 229.7,250.3 228.5,262.0 C227.3,273.7 225.1,285.5 224.5,296.0 C223.9,306.5 223.5,316.2 225.0,325.0 C226.5,333.8 230.0,341.9 233.5,349.0 C237.0,356.1 241.6,362.8 246.0,367.5 C250.4,372.2 255.0,375.2 260.0,377.0 C265.0,378.8 270.3,379.4 276.0,378.0 C281.7,376.6 291.0,370.1 294.0,368.5" fill="none" stroke="#2544d4" stroke-width="5.2"/>
<path d="M230.2,228.0 C229.6,233.7 228.1,250.7 226.9,262.0 C225.7,273.3 223.5,285.5 222.9,296.0 C222.3,306.5 221.9,316.0 223.4,325.0 C224.9,334.0 228.4,342.6 232.0,349.8 C235.6,357.1 242.8,365.4 245.0,368.5" fill="none" stroke="#4a78f0" stroke-width="1.8" opacity="0.85"/>
<!-- ferrule & banjo -->
<path d="M290.5,363.5 L304.6,356 L308,365.7 L296.5,374 Z" fill="#7484c4" opacity="0.88"/>
<path d="M292,364.8 L304,358.6 L305.3,361.2 L294,367.2 Z" fill="#b4c0ea" opacity="0.75"/>
<path d="M303.5,357.5 L309,352 L312.5,355.5 L307,362 Z" fill="#6072b8" opacity="0.88"/>
<ellipse cx="313.2" cy="347" rx="7.2" ry="6.9" fill="#6676ba" stroke="#4454a0" stroke-width="0.9" opacity="0.88"/>
<ellipse cx="313.6" cy="346.6" rx="2" ry="1.9" fill="#d4dcee"/>
<path d="M314.5,340.5 C317,338.5 320,336 323,334.5 L325.5,333.8 L325.2,336.6 C322.5,338 319.5,340.5 317,342.5 Z" fill="#5062b0" opacity="0.9"/>

</g><!--/assembly-->
<g id="annot" fill="none" stroke="#111" stroke-width="1">
  <!-- box 1 -->
  <rect x="97.5" y="108.5" width="75" height="18" fill="#fff"/>
  <line x1="173" y1="117.5" x2="200.3" y2="117.5"/>
  <!-- box 2 -->
  <rect x="63.5" y="261.5" width="76" height="16" fill="#fff"/>
  <line x1="140" y1="268.5" x2="167" y2="268.5"/>
  <!-- clip leader -->
  <line x1="295" y1="107.5" x2="322" y2="107.5"/>
  <!-- *2 leader -->
  <polyline points="284.5,187 295.5,152.5 323,152.5"/>
  <!-- *1 leader -->
  <line x1="200" y1="347.5" x2="226" y2="347.5"/>
</g>
<g id="dots" fill="#111">
  <circle cx="330.3" cy="105.6" r="2.5"/>
  <circle cx="332.4" cy="149.5" r="2.5"/>
  <circle cx="52.6" cy="266.6" r="2.5"/>
</g>
<g id="texts" style="will-change:transform">
  <text x="101.8" y="119.6">15.2 (155, 11)</text>
  <text x="68.6" y="270.5">39.2 (400, 29)</text>
  <text x="341" y="155" style="font-size:12px">*2</text>
  <text x="183.5" y="351" style="font-size:11.5px">*1</text>
  <text x="3" y="556" style="font-size:10.5px;stroke:#222;stroke-width:0.35">H</text>
</g>
</svg>
</body></html>
